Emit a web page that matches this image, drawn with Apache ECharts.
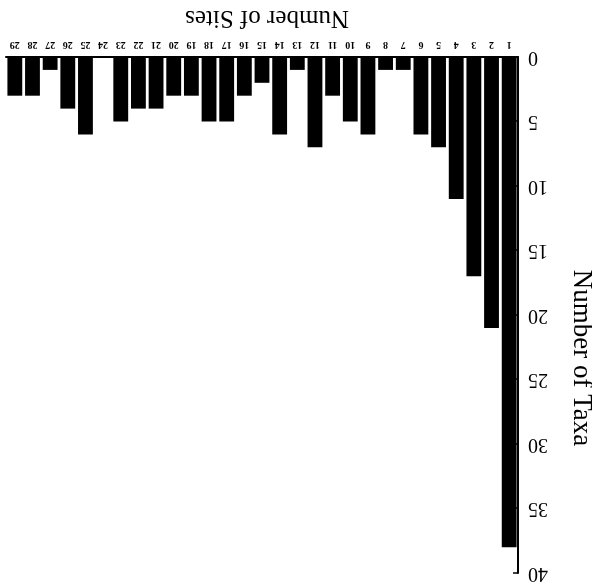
<!DOCTYPE html>
<html>
<head>
<meta charset="utf-8">
<script src="https://cdn.jsdelivr.net/npm/echarts@6/dist/echarts.min.js"></script>
<style>
  html, body { margin: 0; padding: 0; background: #fff; }
  /* the reference is printed upside down */
  #echart { width: 592px; height: 583px; transform: rotate(180deg); }
</style>
</head>
<body>
<div id="echart"></div>
<script>
var sites = ['1','2','3','4','5','6','7','8','9','10','11','12','13','14','15',
  '16','17','18','19','20','21','22','23','24','25','26','27','28','29'];
var taxa = [38, 21, 17, 11, 7, 6, 1, 1, 6, 5, 3, 7, 1, 6, 2,
  3, 5, 5, 3, 3, 4, 4, 5, 0, 6, 4, 1, 3, 3];
var taxaTicks = [0, 5, 10, 15, 20, 25, 30, 35, 40];

var myChart = echarts.init(document.getElementById('echart'));
var font = 'Liberation Serif';
var option = {
  animation: false,
  grid: { left: 74, right: 6, top: 10, bottom: 57, outerBoundsMode: 'none', containLabel: false },
  xAxis: {
    type: 'category',
    data: sites,
    name: 'Number of Sites',
    nameLocation: 'middle',
    nameGap: 27,
    nameTextStyle: { fontFamily: font, fontSize: 25, color: '#000', padding: [0, 10, 0, 0] },
    axisLine: { lineStyle: { color: '#000', width: 2 } },
    axisTick: { show: false },
    axisLabel: { fontFamily: font, fontSize: 10, fontWeight: 'bold', color: '#000', margin: 7, interval: 0 }
  },
  yAxis: {
    type: 'value',
    min: taxaTicks[0],
    max: taxaTicks[taxaTicks.length - 1],
    interval: 5,
    name: 'Number of Taxa',
    nameLocation: 'middle',
    nameRotate: 90,
    nameGap: 50,
    nameTextStyle: { fontFamily: font, fontSize: 27, color: '#000', padding: [0, 0, 0, 86] },
    axisLine: { show: true, lineStyle: { color: '#000', width: 2 } },
    axisTick: { show: true, inside: true, length: 5, lineStyle: { color: '#000', width: 1.5 } },
    axisLabel: { fontFamily: font, fontSize: 20, color: '#000', margin: 10 },
    splitLine: { show: false }
  },
  series: [{
    type: 'bar',
    data: taxa,
    barCategoryGap: '16%',
    itemStyle: { color: '#000' }
  }]
};
myChart.setOption(option);
</script>
</body>
</html>
